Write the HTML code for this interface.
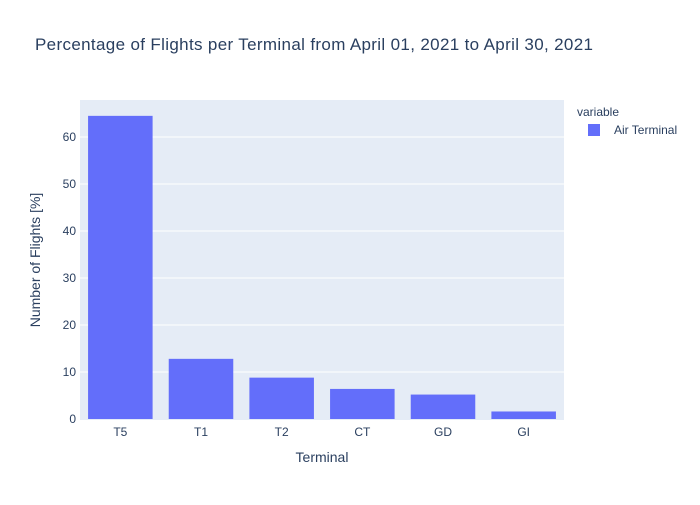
<!DOCTYPE html>
<html><head><meta charset="utf-8"><style>body{margin:0;background:#fff}svg text{font-family:"Liberation Sans",sans-serif}</style></head>
<body>
<svg id="chart" width="700" height="500" xmlns="http://www.w3.org/2000/svg">
<rect width="700" height="500" fill="#fff"/>
<text x="35" y="50" font-size="17" fill="#2a3f5f" textLength="558">Percentage of Flights per Terminal from April 01, 2021 to April 30, 2021</text>
<rect x="80" y="100" width="484" height="320" fill="#e5ecf6"/>
<g id="grid"></g><g id="bars"></g><g id="xt"></g><g id="yt"></g>
<text x="322" y="462" font-size="14" fill="#2a3f5f" text-anchor="middle">Terminal</text>
<text transform="translate(40,260) rotate(-90)" font-size="14" fill="#2a3f5f" text-anchor="middle">Number of Flights [%]</text>
<text x="577" y="116" font-size="12" fill="#2a3f5f">variable</text>
<g><rect x="588" y="124" width="12" height="12" fill="#636efa"/><text x="614" y="134" font-size="12" fill="#2a3f5f">Air Terminal</text></g>
</svg>
<script>
const categories=["T5","T1","T2","CT","GD","GI"];
const values=[64.5,12.8,8.8,6.4,5.2,1.6];
const yTicks=[0,10,20,30,40,50,60];
const ns="http://www.w3.org/2000/svg";
const x0=80,w=484,yBase=419,pxPer=4.7;
const y=v=>yBase-v*pxPer;
const band=w/categories.length;
function mk(t,a,p){const e=document.createElementNS(ns,t);for(const k in a)e.setAttribute(k,a[k]);document.getElementById(p).appendChild(e);return e;}
yTicks.forEach(t=>{
 if(t>0){const g=mk("line",{x1:80,x2:80+w,y1:y(t),y2:y(t),stroke:"#fff","stroke-width":1},"grid");
 
 }
 const l=mk("text",{x:76,y:y(t)+4,"font-size":12,fill:"#2a3f5f","text-anchor":"end"},"yt");
 l.textContent=t;
 
 
});
categories.forEach((c,i)=>{
 const cx=x0+band*(i+0.5);
 const b=mk("rect",{x:cx-band*0.4,y:y(values[i]),width:band*0.8,height:values[i]*pxPer,fill:"#636efa"},"bars");
 
 
 const l=mk("text",{x:cx,y:436,"font-size":12,fill:"#2a3f5f","text-anchor":"middle"},"xt");
 l.textContent=c;
 
 
});
</script>
</body></html>
